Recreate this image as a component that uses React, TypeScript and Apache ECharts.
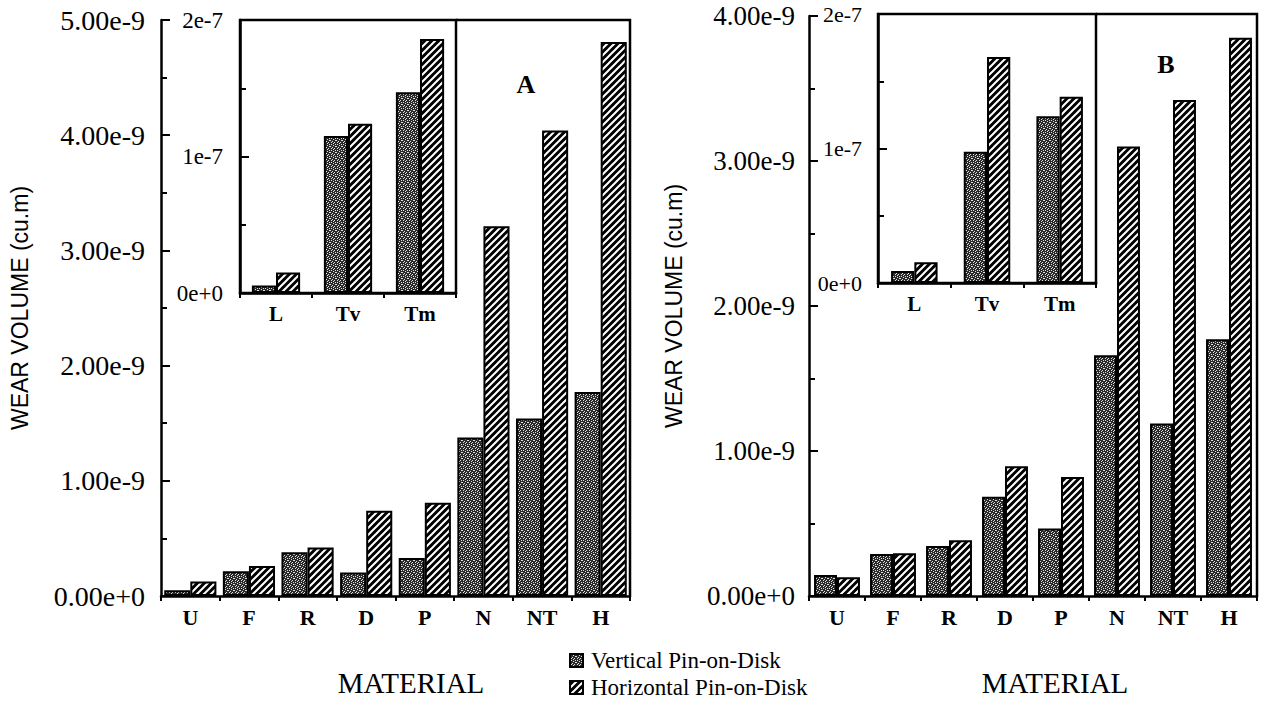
import React, { useEffect, useRef } from "react";
import * as echarts from "echarts";

// ---------- data ----------
const materials = ["U", "F", "R", "D", "P", "N", "NT", "H"];
const insetMaterials = ["L", "Tv", "Tm"];
const seriesNames = ["Vertical Pin-on-Disk", "Horizontal Pin-on-Disk"];

// Panel A (main, cu.m)
const aVertical = [0.05e-9, 0.215e-9, 0.38e-9, 0.205e-9, 0.33e-9, 1.375e-9, 1.54e-9, 1.77e-9];
const aHorizontal = [0.125e-9, 0.26e-9, 0.42e-9, 0.74e-9, 0.81e-9, 3.21e-9, 4.04e-9, 4.81e-9];
// Panel A inset
const aInsetVertical = [0.055e-7, 1.15e-7, 1.47e-7];
const aInsetHorizontal = [0.15e-7, 1.24e-7, 1.86e-7];

// Panel B (main)
const bVertical = [0.145e-9, 0.29e-9, 0.345e-9, 0.685e-9, 0.465e-9, 1.66e-9, 1.19e-9, 1.77e-9];
const bHorizontal = [0.13e-9, 0.295e-9, 0.385e-9, 0.895e-9, 0.82e-9, 3.1e-9, 3.42e-9, 3.85e-9];
// Panel B inset
const bInsetVertical = [0.09e-7, 0.975e-7, 1.24e-7];
const bInsetHorizontal = [0.155e-7, 1.68e-7, 1.385e-7];

// axis ranges
const aMainMax = 5e-9;
const bMainMax = 4e-9;
const mainInterval = 1e-9;
const insetMax = 2e-7;
const insetInterval = 1e-7;

const yTitle = "WEAR VOLUME (cu.m)";
const xTitle = "MATERIAL";
const panelLabels = ["A", "B"];

// ---------- layout ----------
const SERIF = "'Liberation Serif', 'Times New Roman', serif";
const SANS = "'Liberation Sans', Arial, sans-serif";

const L = {
  aMain: { left: 161, top: 20, width: 469, height: 576 },
  aInset: { left: 240, top: 20, width: 216, height: 273 },
  bMain: { left: 809, top: 16, width: 448, height: 580 },
  bInset: { left: 878, top: 14, width: 218, height: 269 },
};

function makeStipple(): HTMLCanvasElement {
  const map = [
    "X.XXX.",
    "XXX.XX",
    ".XXXX.",
    "XX.XXX",
    "X.XX.X",
    "XXX.XX",
  ];
  const c = document.createElement("canvas");
  c.width = 6;
  c.height = 6;
  const ctx = c.getContext("2d")!;
  for (let y = 0; y < 6; y++) {
    for (let x = 0; x < 6; x++) {
      ctx.fillStyle = map[y][x] === "X" ? "#2a2a2a" : "#e0e0e0";
      ctx.fillRect(x, y, 1, 1);
    }
  }
  return c;
}

function makeHatch(): HTMLCanvasElement {
  const s = 7;
  const c = document.createElement("canvas");
  c.width = s;
  c.height = s;
  const ctx = c.getContext("2d")!;
  ctx.fillStyle = "#000";
  ctx.fillRect(0, 0, s, s);
  ctx.strokeStyle = "#fff";
  ctx.lineWidth = 2;
  ctx.beginPath();
  ctx.moveTo(-1, s + 1);
  ctx.lineTo(s + 1, -1);
  ctx.moveTo(-2, 2);
  ctx.lineTo(2, -2);
  ctx.moveTo(s - 2, s + 2);
  ctx.lineTo(s + 2, s - 2);
  ctx.stroke();
  return c;
}

function gridOf(g: { left: number; top: number; width: number; height: number }, show: boolean) {
  return {
    ...g,
    show,
    backgroundColor: "#fff",
    borderColor: "#000",
    borderWidth: show ? 2.5 : 0,
    containLabel: false,
    outerBoundsMode: "none",
  };
}

function catAxis(gridIndex: number, data: string[], fontSize: number) {
  return {
    type: "category",
    gridIndex,
    data,
    boundaryGap: true,
    axisLine: { show: true, onZero: false, lineStyle: { color: "#000", width: 2.5 } },
    axisTick: { show: true, inside: false, length: 5, lineStyle: { color: "#000", width: 2 } },
    axisLabel: {
      interval: 0,
      margin: 10,
      color: "#000",
      fontFamily: SERIF,
      fontWeight: "bold",
      fontSize,
    },
    splitLine: { show: false },
  };
}

function valAxis(
  gridIndex: number,
  max: number,
  interval: number,
  digits: number,
  fontSize: number,
  margin: number,
  name?: string,
  nameGap?: number
) {
  return {
    type: "value",
    gridIndex,
    min: 0,
    max,
    interval,
    name: name || "",
    nameLocation: "middle",
    nameGap: nameGap || 0,
    nameRotate: 90,
    nameTextStyle: { color: "#000", fontFamily: SANS, fontSize: 23 },
    axisLine: { show: true, lineStyle: { color: "#000", width: 2.5 } },
    axisTick: { show: true, inside: true, length: 9, lineStyle: { color: "#000", width: 2 } },
    minorTick: { show: true, splitNumber: 2, length: 6, lineStyle: { color: "#000", width: 2 } },
    axisLabel: {
      margin,
      color: "#000",
      fontFamily: SERIF,
      fontSize,
      formatter: (v: number) => Number(v).toExponential(digits),
    },
    splitLine: { show: false },
    minorSplitLine: { show: false },
  };
}

export default function App() {
  const ref = useRef<HTMLDivElement>(null);

  useEffect(() => {
    if (!ref.current) return;
    const chart = echarts.init(ref.current, undefined, { renderer: "svg" });

    const stipple = makeStipple();
    const hatch = makeHatch();
    const stippleFill = { image: stipple, repeat: "repeat", imageWidth: 6, imageHeight: 6 };
    const hatchFill = { image: hatch, repeat: "repeat", imageWidth: 7, imageHeight: 7 };
    const fills = [stippleFill, hatchFill];

    const bar = (axisIndex: number, data: number[], which: number, gap: string) => ({
      type: "bar",
      name: seriesNames[which],
      xAxisIndex: axisIndex,
      yAxisIndex: axisIndex,
      data,
      barGap: "0%",
      barCategoryGap: gap,
      silent: true,
      itemStyle: { color: fills[which], borderColor: "#000", borderWidth: 2 },
    });

    const frame = (main: typeof L.aMain, inset: typeof L.aInset) => ({
      type: "polyline",
      silent: true,
      z: 10,
      shape: {
        points: [
          [inset.left + inset.width, inset.top],
          [main.left + main.width, inset.top],
          [main.left + main.width, main.top + main.height],
        ],
      },
      style: { stroke: "#000", lineWidth: 2.5, fill: "none" },
    });

    const legendOf = (i: number, top: number) => ({
      orient: "vertical",
      left: 564,
      top,
      itemWidth: 13,
      itemHeight: 13,
      icon: "rect",
      selectedMode: false,
      data: [seriesNames[i]],
      textStyle: { color: "#000", fontFamily: SERIF, fontSize: 23, padding: [0, 0, 0, 3] },
    });

    const option: any = {
      animation: false,
      backgroundColor: "#fff",
      grid: [gridOf(L.aMain, false), gridOf(L.aInset, true), gridOf(L.bMain, false), gridOf(L.bInset, true)],
      xAxis: [
        catAxis(0, materials, 22),
        catAxis(1, insetMaterials, 21),
        catAxis(2, materials, 22),
        catAxis(3, insetMaterials, 21),
      ],
      yAxis: [
        valAxis(0, aMainMax, mainInterval, 2, 28, 16, yTitle, 130),
        valAxis(1, insetMax, insetInterval, 0, 23, 17),
        valAxis(2, bMainMax, mainInterval, 2, 27, 14, yTitle, 124),
        valAxis(3, insetMax, insetInterval, 0, 22, 16),
      ],
      legend: [legendOf(0, 644), legendOf(1, 671)],
      series: [
        bar(0, aVertical, 0, "11%"),
        bar(0, aHorizontal, 1, "11%"),
        bar(1, aInsetVertical, 0, "33%"),
        bar(1, aInsetHorizontal, 1, "33%"),
        bar(2, bVertical, 0, "18%"),
        bar(2, bHorizontal, 1, "18%"),
        bar(3, bInsetVertical, 0, "36%"),
        bar(3, bInsetHorizontal, 1, "36%"),
      ],
      graphic: [
        frame(L.aMain, L.aInset),
        frame(L.bMain, L.bInset),
        {
          type: "text",
          x: 526,
          y: 84,
          style: { text: panelLabels[0], font: `bold 26px ${SERIF}`, fill: "#000", align: "center", verticalAlign: "middle" },
        },
        {
          type: "text",
          x: 1166,
          y: 64,
          style: { text: panelLabels[1], font: `bold 26px ${SERIF}`, fill: "#000", align: "center", verticalAlign: "middle" },
        },
        {
          type: "text",
          x: 411,
          y: 683,
          style: { text: xTitle, font: `29px ${SERIF}`, fill: "#000", align: "center", verticalAlign: "middle" },
        },
        {
          type: "text",
          x: 1055,
          y: 683,
          style: { text: xTitle, font: `29px ${SERIF}`, fill: "#000", align: "center", verticalAlign: "middle" },
        },
      ],
    };

    chart.setOption(option);
    return () => chart.dispose();
  }, []);

  return (
    <div
      ref={ref}
      style={{ position: "fixed", left: 0, top: 0, width: 1261, height: 704, background: "#fff" }}
    />
  );
}
